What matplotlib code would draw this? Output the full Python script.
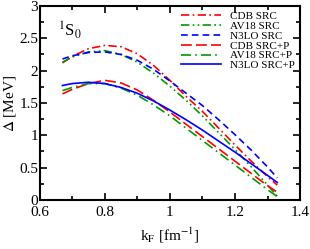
import numpy as np
import matplotlib
matplotlib.use("Agg")
import matplotlib.pyplot as plt
from matplotlib.ticker import MultipleLocator

plt.rcParams['font.family'] = ['Liberation Serif', 'DejaVu Serif']
plt.rcParams['mathtext.fontset'] = 'stix'

# kF [fm^-1]
kf = [0.67, 0.70, 0.75, 0.80, 0.85, 0.90, 0.95, 1.00, 1.05, 1.10, 1.15, 1.20, 1.25, 1.30, 1.33]

# ギャップ [MeV]
cdb_src = [2.12, 2.22, 2.34, 2.39, 2.37, 2.26, 2.08, 1.85, 1.60, 1.37, 1.11, 0.85, 0.60, 0.36, 0.23]
av18_src = [2.13, 2.21, 2.29, 2.31, 2.25, 2.13, 1.96, 1.76, 1.54, 1.30, 1.04, 0.78, 0.51, 0.23, 0.06]
n3lo_src = [2.18, 2.23, 2.28, 2.29, 2.25, 2.16, 2.02, 1.84, 1.65, 1.46, 1.24, 1.01, 0.77, 0.51, 0.34]
cdb_srcp = [1.64, 1.71, 1.80, 1.85, 1.81, 1.70, 1.54, 1.36, 1.17, 0.98, 0.79, 0.60, 0.41, 0.22, 0.12]
av18_srcp = [1.69, 1.74, 1.80, 1.80, 1.73, 1.62, 1.47, 1.30, 1.11, 0.92, 0.73, 0.54, 0.35, 0.16, 0.05]
n3lo_srcp = [1.77, 1.80, 1.82, 1.80, 1.74, 1.65, 1.53, 1.39, 1.24, 1.08, 0.91, 0.74, 0.56, 0.38, 0.27]

labels = ['CDB SRC', 'AV18 SRC', 'N3LO SRC', 'CDB SRC+P', 'AV18 SRC+P', 'N3LO SRC+P']

red = '#ff0000'
green = '#009900'
blue = '#0000ff'

fig = plt.figure(figsize=(3.1, 2.49), dpi=100)
ax = fig.add_axes([0.128, 0.197, 0.840, 0.779])

lw = 1.2
ax.plot(kf, cdb_src, color=red, lw=lw, dashes=(5, 2, 1, 2), label=labels[0])
ax.plot(kf, av18_src, color=green, lw=lw, dashes=(5, 2, 1, 2, 1, 2), label=labels[1])
ax.plot(kf, n3lo_src, color=blue, lw=lw, dashes=(4, 2.5), label=labels[2])
ax.plot(kf, cdb_srcp, color=red, lw=lw, dashes=(6.5, 2.5), label=labels[3])
ax.plot(kf, av18_srcp, color=green, lw=lw, dashes=(6, 2.5, 1, 2.5), label=labels[4])
ax.plot(kf, n3lo_srcp, color=blue, lw=lw, label=labels[5])

ax.set_xlim(0.6, 1.4)
ax.set_ylim(0, 3)
ax.xaxis.set_major_locator(MultipleLocator(0.2))
ax.xaxis.set_minor_locator(MultipleLocator(0.1))
ax.yaxis.set_major_locator(MultipleLocator(0.5))
ax.yaxis.set_minor_locator(MultipleLocator(0.25))
ax.tick_params(which='both', direction='in', top=True, right=True, labelsize=11, width=1.2)
ax.tick_params(which='major', length=5)
ax.tick_params(axis='x', which='major', pad=4)
ax.tick_params(axis='y', which='major', pad=1)
ax.tick_params(which='minor', length=3)
for s in ax.spines.values():
    s.set_linewidth(1.5)

ax.xaxis.set_major_formatter(plt.FuncFormatter(lambda v, p: f"{v:g}"))
ax.yaxis.set_major_formatter(plt.FuncFormatter(lambda v, p: f"{v:g}"))

ax.set_xlabel(r'k$_\mathrm{F}$ [fm$^{-1}$]', fontsize=11, labelpad=5)
ax.set_ylabel(r'$\Delta$ [MeV]', fontsize=11, labelpad=1)

ax.text(0.655, 2.63, r'$^1$S$_0$', fontsize=12, va='center')

ax.legend(loc='upper right', frameon=False, fontsize=8, handlelength=3.6,
          handletextpad=0.8, labelspacing=0.0, borderaxespad=0.1,
          bbox_to_anchor=(1.0, 1.0))

fig.savefig('out.png', dpi=100)
